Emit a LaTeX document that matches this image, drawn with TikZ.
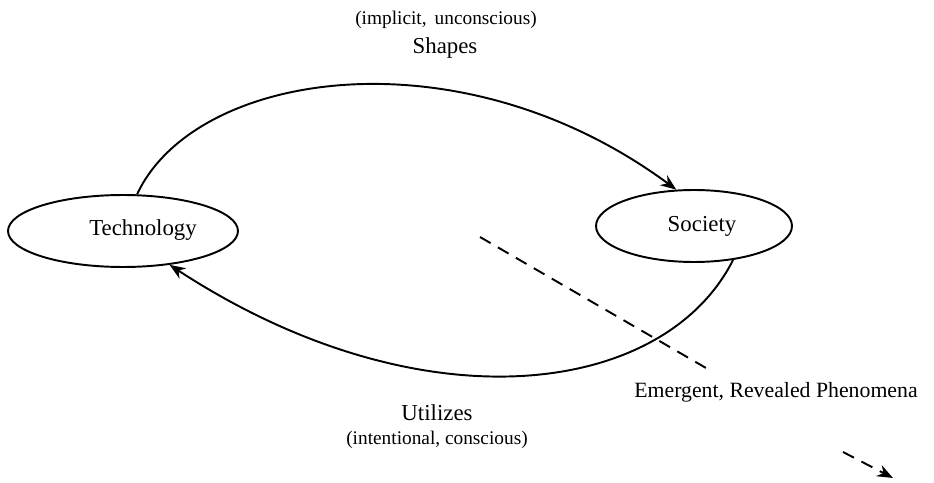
\documentclass[tikz,border=0pt]{standalone}
\usepackage{fontspec}
\setmainfont{Liberation Serif}
\usetikzlibrary{arrows.meta, shapes.geometric}

\begin{document}
\begin{tikzpicture}[x=0.02cm, y=-0.02cm,
      line width = 1.1pt,
          blob/.style = {ellipse, draw, inner sep=0pt, minimum height=1.44cm},
           big/.style = {font=\fontsize{13}{15}\selectfont},
         small/.style = {font=\fontsize{11}{13}\selectfont},
           tip/.style = {-{Stealth[length=9pt, width=7pt]}},
         dashy/.style = {dash pattern=on 7pt off 4.8pt}]
  \useasboundingbox (0,0) rectangle (934,483);
  \node[blob, minimum width=4.6cm]  (tech) at (123,231) {};
  \node[big] (techtext) at (143,230) {Technology};
  \node[blob, minimum width=3.92cm] (soc)  at (694,226) {};
  \node[big] (soctext) at (702,226) {Society};
  \node[small] (shapesnote) at (446,20)  {(implicit,\, unconscious)};
  \node[big]   (shapes)     at (445,48)  {Shapes};
  \node[big]   (utilizes)   at (437,413) {Utilizes};
  \node[small] (utilnote)   at (437,440) {(intentional, conscious)};
  \node[font=\fontsize{12.4}{15}\selectfont] (emerg) at (776,392) {Emergent, Revealed Phenomena};
  \coordinate (emstart) at (480,237);
  \coordinate (emstop)  at (706,368);
  \coordinate (emfrom)  at (843,452);
  \coordinate (emto)    at (893,478);
  \draw[tip] (tech.69) .. controls (195,70) and (460,30) .. (soc.116);
  \draw[tip] (soc.-41) .. controls (664,397) and (421,429) .. (tech.-36);
  \draw[dashy] (emstart) -- (emstop);
  \draw[dashy, tip] (emfrom) -- (emto);
\end{tikzpicture}
\end{document}
